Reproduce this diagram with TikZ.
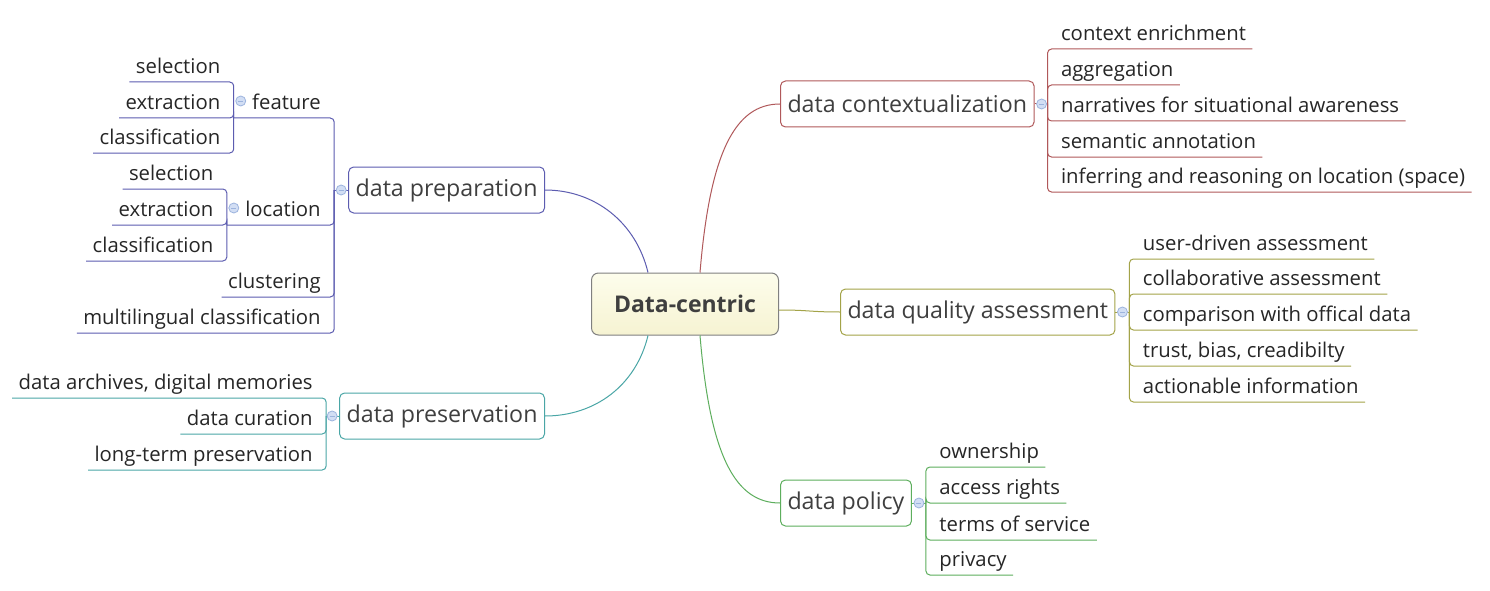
\documentclass[tikz,border=0pt]{standalone}
\usepackage{fontspec}
\setmainfont{Open Sans}
\usetikzlibrary{calc,positioning}
\definecolor{ctxred}{HTML}{B0585A}
\definecolor{qualolive}{HTML}{A3A348}
\definecolor{polgreen}{HTML}{5DAE5D}
\definecolor{presteal}{HTML}{4AA6A6}
\definecolor{prepblue}{HTML}{5C5CB0}
\definecolor{lightyellow}{HTML}{FDFDEC}
\definecolor{darkyellow}{HTML}{F6F3D2}
\definecolor{topicgray}{HTML}{3F3F3F}
\definecolor{minusfill}{HTML}{D2DEF4}
\definecolor{minusdraw}{HTML}{9DB4DE}

\tikzset{
  central/.style={draw=gray, rounded corners=7pt, minimum width=187pt, minimum height=62pt,
    top color=lightyellow, bottom color=darkyellow, text=topicgray,
    font=\fontsize{23}{27}\selectfont\bfseries},
  topic/.style={rounded corners=5pt, inner xsep=7pt, inner ysep=0pt, minimum height=46pt,
    text=topicgray, font=\fontsize{23.2}{27}\selectfont},
  leaf/.style={inner xsep=6pt, inner ysep=0pt, text height=15pt, text depth=8pt,
    text=black!85, font=\fontsize{20.3}{24}\selectfont},
  minus/.style={circle, draw=minusdraw, fill=minusfill, minimum size=10pt, inner sep=0pt,
    line width=0.8pt, path picture={\draw[minusdraw, line width=0.8pt]
      ([xshift=-2.5pt]path picture bounding box.center) -- ([xshift=2.5pt]path picture bounding box.center);}},
  branch/.style={line width=1pt, rounded corners=4pt}
}

\begin{document}
\begin{tikzpicture}[x=1pt,y=-1pt]
  \path[use as bounding box, fill=white] (0,0) rectangle (1490,591);
  \begin{scope}[line width=1pt]
    % central topic
    \draw (685,304) node[central](dc) {Data-centric};

    % main topics
    \draw (780,104) node[topic, draw=ctxred, anchor=west](ctx) {data contextualization};
    \draw (840,312) node[topic, draw=qualolive, anchor=west](qual) {data quality assessment};
    \draw (780,503) node[topic, draw=polgreen, anchor=west](pol) {data policy};
    \draw (545,190) node[topic, draw=prepblue, anchor=east](prep) {data preparation};
    \draw (545,416) node[topic, draw=presteal, anchor=east](pres) {data preservation};

    \draw[ctxred] ([xshift=15pt]dc.north) .. controls +(10,-120) and +(-45,0) .. (ctx.west);
    \draw[qualolive] ([yshift=-6pt]dc.east) .. controls +(30,0) and +(-30,0) .. (qual.west);
    \draw[polgreen] ([xshift=15pt]dc.south) .. controls +(10,120) and +(-45,0) .. (pol.west);
    \draw[prepblue] ([xshift=-37pt]dc.north) .. controls +(-12,-50) and +(50,0) .. (prep.east);
    \draw[presteal] ([xshift=-37pt]dc.south) .. controls +(-12,50) and +(50,0) .. (pres.east);

    % data contextualization
    \coordinate (ctxbar) at ([xshift=13pt]ctx.east);
    \draw (ctxbar |- 0,49) node[leaf, anchor=south west, xshift=7pt](ctxa) {context enrichment};
    \draw (ctxbar |- 0,85) node[leaf, anchor=south west, xshift=7pt](ctxb) {aggregation};
    \draw (ctxbar |- 0,121) node[leaf, anchor=south west, xshift=7pt](ctxc) {narratives for situational awareness};
    \draw (ctxbar |- 0,157) node[leaf, anchor=south west, xshift=7pt](ctxd) {semantic annotation};
    \draw (ctxbar |- 0,192) node[leaf, anchor=south west, xshift=7pt](ctxe) {inferring and reasoning on location (space)};
    \draw[ctxred] (ctx.east) -- (ctxbar);
    \foreach \n in {ctxa,ctxb,ctxc,ctxd,ctxe}
      \draw[branch, ctxred] (ctxbar) |- (\n.south east);
    \draw ([xshift=7pt]ctx.east) node[minus](ctxminus) {};

    % data quality assessment
    \coordinate (qualbar) at ([xshift=14pt]qual.east);
    \draw (qualbar |- 0,259) node[leaf, anchor=south west, xshift=7pt](quala) {user-driven assessment};
    \draw (qualbar |- 0,294) node[leaf, anchor=south west, xshift=7pt](qualb) {collaborative assessment};
    \draw (qualbar |- 0,330) node[leaf, anchor=south west, xshift=7pt](qualc) {comparison with offical data};
    \draw (qualbar |- 0,366) node[leaf, anchor=south west, xshift=7pt](quald) {trust, bias, creadibilty};
    \draw (qualbar |- 0,402) node[leaf, anchor=south west, xshift=7pt](quale) {actionable information};
    \draw[qualolive] (qual.east) -- (qualbar);
    \foreach \n in {quala,qualb,qualc,quald,quale}
      \draw[branch, qualolive] (qualbar) |- (\n.south east);
    \draw ([xshift=7pt]qual.east) node[minus](qualminus) {};

    % data policy
    \coordinate (polbar) at ([xshift=14pt]pol.east);
    \draw (polbar |- 0,467) node[leaf, anchor=south west, xshift=7pt](pola) {ownership};
    \draw (polbar |- 0,503) node[leaf, anchor=south west, xshift=7pt](polb) {access rights};
    \draw (polbar |- 0,540) node[leaf, anchor=south west, xshift=7pt](polc) {terms of service};
    \draw (polbar |- 0,575) node[leaf, anchor=south west, xshift=7pt](pold) {privacy};
    \draw[polgreen] (pol.east) -- (polbar);
    \foreach \n in {pola,polb,polc,pold}
      \draw[branch, polgreen] (polbar) |- (\n.south east);
    \draw ([xshift=7pt]pol.east) node[minus](polminus) {};

    % data preparation
    \coordinate (prepbar) at ([xshift=-14pt]prep.west);
    \draw (prepbar |- 0,118) node[leaf, anchor=south east, xshift=-7pt](feat) {feature};
    \draw (prepbar |- 0,225) node[leaf, anchor=south east, xshift=-7pt](loc) {location};
    \draw (prepbar |- 0,297) node[leaf, anchor=south east, xshift=-7pt](clu) {clustering};
    \draw (prepbar |- 0,333) node[leaf, anchor=south east, xshift=-7pt](mul) {multilingual classification};
    \coordinate (featbar) at ([xshift=-12pt]feat.south west);
    \coordinate (locbar) at ([xshift=-12pt]loc.south west);
    \draw[prepblue] (prep.west) -- (prepbar);
    \draw[branch, prepblue] (prepbar) |- (featbar);
    \draw[branch, prepblue] (prepbar) |- (locbar);
    \draw[branch, prepblue] (prepbar) |- (clu.south west);
    \draw[branch, prepblue] (prepbar) |- (mul.south west);

    % feature
    \draw (featbar |- 0,82) node[leaf, anchor=south east, xshift=-7pt](fsel) {selection};
    \draw (featbar |- 0,118) node[leaf, anchor=south east, xshift=-7pt](fext) {extraction};
    \draw (featbar |- 0,153) node[leaf, anchor=south east, xshift=-7pt](fcls) {classification};
    \foreach \n in {fsel,fext,fcls}
      \draw[branch, prepblue] (featbar) |- (\n.south west);

    % location
    \draw (locbar |- 0,189) node[leaf, anchor=south east, xshift=-7pt](lsel) {selection};
    \draw (locbar |- 0,225) node[leaf, anchor=south east, xshift=-7pt](lext) {extraction};
    \draw (locbar |- 0,261) node[leaf, anchor=south east, xshift=-7pt](lcls) {classification};
    \foreach \n in {lsel,lext,lcls}
      \draw[branch, prepblue] (locbar) |- (\n.south west);

    \draw ([xshift=-7pt]prep.west) node[minus](prepminus) {};
    \draw ([xshift=7pt,yshift=17pt]featbar) node[minus](featminus) {};
    \draw ([xshift=7pt,yshift=17pt]locbar) node[minus](locminus) {};

    % data preservation
    \coordinate (presbar) at ([xshift=-13pt]pres.west);
    \draw (presbar |- 0,398) node[leaf, anchor=south east, xshift=-7pt](presa) {data archives, digital memories};
    \draw (presbar |- 0,434) node[leaf, anchor=south east, xshift=-7pt](presb) {data curation};
    \draw (presbar |- 0,470) node[leaf, anchor=south east, xshift=-7pt](presc) {long-term preservation};
    \draw[presteal] (pres.west) -- (presbar);
    \foreach \n in {presa,presb,presc}
      \draw[branch, presteal] (presbar) |- (\n.south west);
    \draw ([xshift=-7pt]pres.west) node[minus](presminus) {};
  \end{scope}
\end{tikzpicture}
\end{document}
